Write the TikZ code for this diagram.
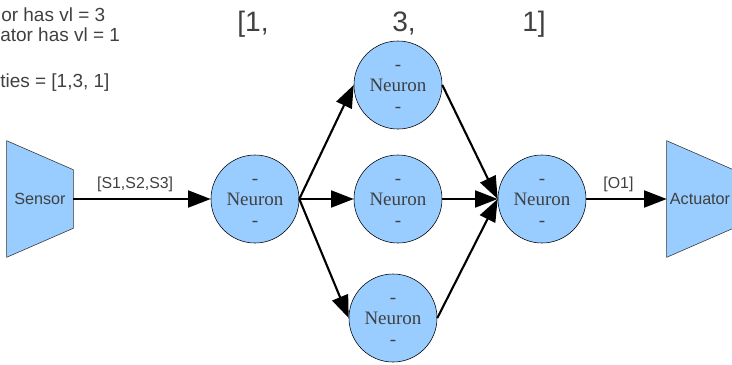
\documentclass[tikz,border=0pt]{standalone}
\usepackage{fontspec}
\setmainfont{Liberation Serif}
\setsansfont{Liberation Sans}
\usetikzlibrary{arrows.meta,backgrounds,calc}
\definecolor{nfill}{RGB}{153,204,255}
\definecolor{ntext}{RGB}{64,64,64}

\begin{document}
\begin{tikzpicture}[x=0.025cm, y=-0.025cm,
    neuron/.style={circle, draw, fill=nfill, minimum size=2.2cm, inner sep=0pt,
                   align=center, text=ntext, font=\fontsize{13.5}{15}\selectfont},
    io/.style={minimum width=1.65cm, minimum height=1.45cm, inner sep=0pt,
               text=ntext, font=\sffamily\fontsize{11.5}{13}\selectfont},
    arrow/.style={-{Triangle[length=16pt, width=12pt]}, line width=1.5pt},
    elabel/.style={font=\sffamily\fontsize{11.3}{13}\selectfont, text=ntext, above=1pt},
    note/.style={font=\sffamily\fontsize{13.5}{16}\selectfont, text=ntext,
                 anchor=base west, inner sep=0pt},
    layer/.style={font=\sffamily\fontsize{20}{24}\selectfont, text=ntext,
                  anchor=base, inner sep=0pt}
]
\useasboundingbox (0,0) rectangle (732,364);

% --- notes (top left) ---
\node[note] (nt1) at (1,21) {or has vl = 3};
\node[note] (nt2) at (0,41) {ator has vl = 1};
\node[note] (nt3) at (0,87) {ties = [1,3, 1]};

% --- layer densities ---
\node[layer] (ly1) at (253,31) {[1,};
\node[layer] (ly2) at (404,31) {3,};
\node[layer] (ly3) at (534,31) {1]};

% --- sensor / actuator ---
\node[io] (sens) at (40,199) {Sensor};
\node[io] (act) at (700,199) {Actuator};
\begin{scope}[on background layer]
\foreach \n in {sens, act}
    \draw[fill=nfill, draw=black!80] ($(\n.north west)+(0,-29)$) -- (\n.north east)
        -- (\n.south east) -- ($(\n.south west)+(0,29)$) -- cycle;
\end{scope}

% --- neurons ---
\newcommand{\nrtext}{\rule{0pt}{9pt}-\\Neuron\\-}
\node[neuron] (in1) at (255,199) {\nrtext};
\node[neuron] (hid1) at (398,85) {\nrtext};
\node[neuron] (hid2) at (398,199) {\nrtext};
\node[neuron] (hid3) at (393,318) {\nrtext};
\node[neuron] (out1) at (542,199) {\nrtext};

\draw[arrow] (sens) -- (in1) node[elabel, pos=0.45] {[S1,S2,S3]};
\foreach \h in {hid1, hid2, hid3} {
    \draw[arrow] (in1.east) -- (\h.west);
    \draw[arrow] (\h.east) -- (out1.west);
}
\draw[arrow] (out1) -- (act) node[elabel, pos=0.4] {[O1]};

\end{tikzpicture}
\end{document}
